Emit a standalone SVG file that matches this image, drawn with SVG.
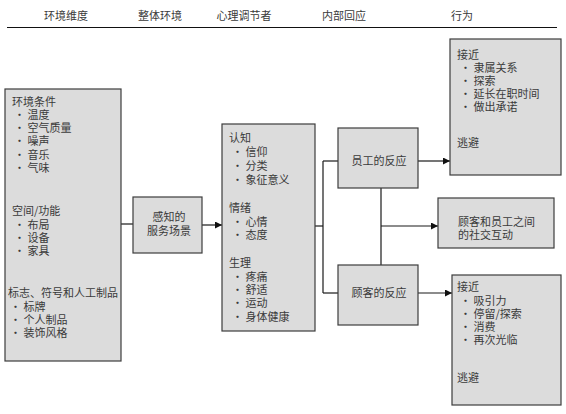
<svg xmlns="http://www.w3.org/2000/svg" width="566" height="414" viewBox="0 0 566 414">
<style>
.t{font-family:"Noto Sans CJK SC","Noto Sans",sans-serif;font-size:11px;fill:#3a3a3a}
.h{font-family:"Noto Sans CJK SC","Noto Sans",sans-serif;font-size:11px;fill:#3a3a3a;text-anchor:middle}
.box{fill:#dcdcdc;stroke:#3c3c3c;stroke-width:1.2}
.ln{fill:none;stroke:#1a1a1a;stroke-width:1.2}
</style>
<defs>
<marker id="ar" viewBox="0 0 10 10" refX="10" refY="5" markerWidth="9" markerHeight="7" markerUnits="userSpaceOnUse" orient="auto">
<path d="M0,0 L10,5 L0,10 z" fill="#111"/>
</marker>
</defs>
<rect width="566" height="414" fill="#fff"/>
<g id="headers">
<text class="h" x="66" y="20">环境维度</text>
<text class="h" x="160" y="20">整体环境</text>
<text class="h" x="244" y="20">心理调节者</text>
<text class="h" x="344" y="20">内部回应</text>
<text class="h" x="462" y="20">行为</text>
<line x1="7" y1="27.5" x2="557" y2="27.5" stroke="#111" stroke-width="1.2"/>
</g>
<g id="connectors">
<line class="ln" x1="121" y1="224" x2="133" y2="224"/>
<line class="ln" x1="202" y1="225" x2="222" y2="225" marker-end="url(#ar)"/>
<line class="ln" x1="315" y1="226" x2="323" y2="226"/>
<line class="ln" x1="323" y1="161" x2="323" y2="293"/>
<line class="ln" x1="323" y1="161" x2="338" y2="161"/>
<line class="ln" x1="323" y1="293" x2="338" y2="293"/>
<line class="ln" x1="418" y1="161" x2="450" y2="161" marker-end="url(#ar)"/>
<line class="ln" x1="418" y1="293" x2="452" y2="293" marker-end="url(#ar)"/>
<line class="ln" x1="381" y1="188" x2="381" y2="265"/>
<line class="ln" x1="381" y1="226" x2="438" y2="226" marker-end="url(#ar)"/>
</g>
<g id="env">
<rect class="box" x="5" y="89" width="116" height="272"/>
<text class="t" x="12" y="106">环境条件</text>
<text class="t" x="14" y="119">· 温度</text>
<text class="t" x="14" y="132">· 空气质量</text>
<text class="t" x="14" y="145">· 噪声</text>
<text class="t" x="14" y="159">· 音乐</text>
<text class="t" x="14" y="172">· 气味</text>
<text class="t" x="12" y="215">空间/功能</text>
<text class="t" x="14" y="229">· 布局</text>
<text class="t" x="14" y="242">· 设备</text>
<text class="t" x="14" y="255">· 家具</text>
<text class="t" x="8" y="297">标志、符号和人工制品</text>
<text class="t" x="10" y="311">· 标牌</text>
<text class="t" x="10" y="324">· 个人制品</text>
<text class="t" x="10" y="337">· 装饰风格</text>
</g>
<g id="perceived">
<rect class="box" x="133" y="197" width="69" height="56"/>
<text class="h" x="169" y="221">感知的</text>
<text class="h" x="169" y="235">服务场景</text>
</g>
<g id="moderators">
<rect class="box" x="222" y="124" width="93" height="207"/>
<text class="t" x="229" y="142">认知</text>
<text class="t" x="232" y="156">· 信仰</text>
<text class="t" x="232" y="170">· 分类</text>
<text class="t" x="232" y="184">· 象征意义</text>
<text class="t" x="229" y="212">情绪</text>
<text class="t" x="232" y="226">· 心情</text>
<text class="t" x="232" y="239">· 态度</text>
<text class="t" x="229" y="267">生理</text>
<text class="t" x="232" y="281">· 疼痛</text>
<text class="t" x="232" y="294">· 舒适</text>
<text class="t" x="232" y="307">· 运动</text>
<text class="t" x="232" y="321">· 身体健康</text>
</g>
<g id="employee">
<rect class="box" x="338" y="128" width="80" height="60"/>
<text class="h" x="379" y="165">员工的反应</text>
</g>
<g id="customer">
<rect class="box" x="338" y="265" width="80" height="60"/>
<text class="h" x="379" y="297">顾客的反应</text>
</g>
<g id="emp-behavior">
<rect class="box" x="450" y="39" width="111" height="136"/>
<text class="t" x="457" y="59">接近</text>
<text class="t" x="460" y="72">· 隶属关系</text>
<text class="t" x="460" y="85">· 探索</text>
<text class="t" x="460" y="98">· 延长在职时间</text>
<text class="t" x="460" y="111">· 做出承诺</text>
<text class="t" x="457" y="147">逃避</text>
</g>
<g id="social">
<rect class="box" x="438" y="198" width="116" height="50"/>
<text class="t" x="458" y="226">顾客和员工之间</text>
<text class="t" x="458" y="239">的社交互动</text>
</g>
<g id="cust-behavior">
<rect class="box" x="452" y="275" width="109" height="130"/>
<text class="t" x="457" y="291">接近</text>
<text class="t" x="460" y="305">· 吸引力</text>
<text class="t" x="460" y="318">· 停留/探索</text>
<text class="t" x="460" y="331">· 消费</text>
<text class="t" x="460" y="344">· 再次光临</text>
<text class="t" x="457" y="382">逃避</text>
</g>
</svg>
